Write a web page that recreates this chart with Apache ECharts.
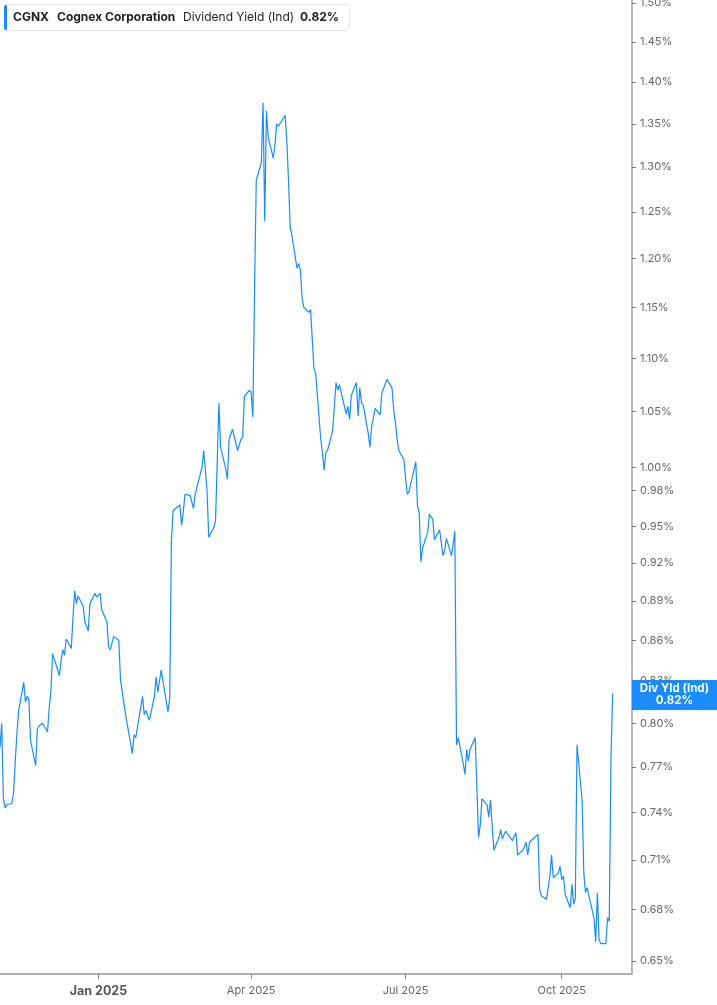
<!DOCTYPE html>
<html>
<head>
    <meta charset="utf-8" />
    <title>CGNX Dividend Yield (Ind)</title>
    <script src="https://cdn.jsdelivr.net/npm/echarts@6.0.0/dist/echarts.min.js"></script>
    <style type="text/css">
        html, body {
            margin: 0;
            padding: 0;
            width: 100%;
            height: 100%;
            background-color: #fff;
            overflow: hidden;
        }

        #chart {
            width: 717px;
            height: 1005px;
        }
    </style>
</head>
<body>
    <div id="chart"></div>
    <script type="text/javascript">
        // dividend yield (%), one value per trading day, month by month
        var nov24 = [0.783, 0.800, 0.749, 0.743, 0.745, 0.746, 0.753, 0.774, 0.793, 0.809, 0.829, 0.815, 0.819, 0.817, 0.788, 0.771, 0.796, 0.798, 0.800];
        var dec24 = [0.794, 0.811, 0.823, 0.850, 0.846, 0.834, 0.845, 0.853, 0.849, 0.861, 0.854, 0.877, 0.898, 0.888, 0.894, 0.886, 0.874, 0.867, 0.888, 0.896, 0.893];
        var jan25 = [0.896, 0.883, 0.874, 0.855, 0.853, 0.863, 0.860, 0.831, 0.831, 0.814, 0.806, 0.779, 0.792, 0.790, 0.791, 0.819, 0.806, 0.809, 0.805, 0.802];
        var feb25 = [0.819, 0.833, 0.822, 0.830, 0.838, 0.815, 0.808, 0.817, 0.938, 0.963, 0.968, 0.951, 0.962, 0.977, 0.976, 0.975, 0.965, 0.977, 0.978];
        var mar25 = [1.000, 1.015, 0.998, 0.980, 0.941, 0.949, 0.955, 1.005, 1.058, 1.018, 0.999, 0.990, 1.025, 1.025, 1.034, 1.015, 1.020, 1.025, 1.027, 1.064, 1.070];
        var apr25 = [1.067, 1.045, 1.170, 1.285, 1.305, 1.375, 1.240, 1.365, 1.335, 1.310, 1.325, 1.350, 1.347, 1.360, 1.330, 1.285, 1.233, 1.225, 1.190, 1.195, 1.188];
        var may25 = [1.160, 1.150, 1.145, 1.148, 1.150, 1.090, 1.086, 1.025, 1.013, 0.998, 1.013, 1.015, 1.033, 1.034, 1.077, 1.070, 1.075, 1.048, 1.055, 1.043, 1.065];
        var jun25 = [1.077, 1.046, 1.072, 1.058, 1.056, 1.030, 1.018, 1.037, 1.044, 1.053, 1.047, 1.067, 1.066, 1.080, 1.072, 1.051, 1.040, 1.025, 1.015, 1.007];
        var jul25 = [0.990, 0.977, 0.979, 1.005, 0.967, 0.962, 0.921, 0.932, 0.945, 0.960, 0.960, 0.956, 0.939, 0.947, 0.937, 0.926, 0.930, 0.940, 0.926, 0.935, 0.946, 0.785];
        var aug25 = [0.790, 0.772, 0.765, 0.782, 0.774, 0.782, 0.790, 0.756, 0.724, 0.732, 0.749, 0.745, 0.737, 0.748, 0.748, 0.716, 0.724, 0.729, 0.723, 0.726, 0.728];
        var sep25 = [0.722, 0.725, 0.727, 0.713, 0.716, 0.718, 0.721, 0.713, 0.721, 0.724, 0.724, 0.726, 0.692, 0.688, 0.686, 0.687, 0.700, 0.713, 0.699, 0.702, 0.706];
        var oct25 = [0.698, 0.700, 0.689, 0.681, 0.695, 0.683, 0.686, 0.785, 0.748, 0.702, 0.690, 0.693, 0.688, 0.675, 0.661, 0.690, 0.662, 0.660, 0.660, 0.675, 0.673, 0.775, 0.821];

        // market calendar
        var firstDay = '2024-11-04';
        var lastDay = '2025-10-31';
        var holidays = ['2024-11-28', '2024-12-25', '2025-01-01', '2025-01-09', '2025-01-20', '2025-02-17',
            '2025-04-18', '2025-05-26', '2025-06-19', '2025-07-04', '2025-09-01'];

        // axis ticks
        var yTicks = [0.65, 0.68, 0.71, 0.74, 0.77, 0.80, 0.83, 0.86, 0.89, 0.92, 0.95, 0.98,
            1.00, 1.05, 1.10, 1.15, 1.20, 1.25, 1.30, 1.35, 1.40, 1.45, 1.50];
        var xTicks = ['2025-01-01', '2025-04-01', '2025-07-01', '2025-10-01'];
        var monthNames = ['Jan', 'Feb', 'Mar', 'Apr', 'May', 'Jun', 'Jul', 'Aug', 'Sep', 'Oct', 'Nov', 'Dec'];

        var DAY = 86400000;
        var toTs = function (s) {
            var p = s.split('-');
            return Date.UTC(+p[0], +p[1] - 1, +p[2]);
        };
        var toKey = function (t) {
            return new Date(t).toISOString().slice(0, 10);
        };

        var tradingDays = function (from, to) {
            var out = [];
            for (var t = toTs(from); t <= toTs(to); t += DAY) {
                var wd = new Date(t).getUTCDay();
                if (wd === 0 || wd === 6) continue;
                if (holidays.indexOf(toKey(t)) >= 0) continue;
                out.push(t);
            }
            return out;
        };

        var days = tradingDays(firstDay, lastDay);
        var values = [].concat(nov24, dec24, jan25, feb25, mar25, apr25, may25, jun25, jul25, aug25, sep25, oct25);
        var seriesData = [];
        for (var i = 0; i < days.length && i < values.length; i++) {
            seriesData.push([days[i], values[i]]);
        }
        var lastValue = values[values.length - 1];

        var xMin = toTs(firstDay);
        var xMax = xMin + 372.4 * DAY;
        var xTickTs = xTicks.map(toTs);

        var FONT = 'Inter, "Noto Sans", sans-serif';
        var BLUE = '#1a8cff';

        var option = {
            animation: false,
            backgroundColor: '#fff',
            textStyle: { fontFamily: FONT },
            grid: { left: 0, right: 85, top: 0, bottom: 31, outerBoundsMode: 'none', containLabel: false },
            xAxis: {
                type: 'value',
                min: xMin,
                max: xMax,
                axisLine: { show: true, lineStyle: { color: '#b0b0b0', width: 2 } },
                axisTick: { show: true, customValues: xTickTs, length: 5, lineStyle: { color: '#8a8a8a' } },
                axisLabel: {
                    customValues: xTickTs,
                    margin: 11,
                    formatter: function (v) {
                        var d = new Date(v);
                        var m = d.getUTCMonth();
                        var txt = monthNames[m] + ' ' + d.getUTCFullYear();
                        return m === 0 ? '{y|' + txt + '}' : '{m|' + txt + '}';
                    },
                    rich: {
                        y: { fontFamily: FONT, fontSize: 12.5, fontWeight: 'bold', color: '#555' },
                        m: { fontFamily: FONT, fontSize: 11, color: '#666' }
                    }
                },
                splitLine: { show: false }
            },
            yAxis: {
                type: 'log',
                logBase: 10,
                position: 'right',
                min: 0.6427,
                max: 1.504,
                axisLine: { show: true, lineStyle: { color: '#a0a0a0', width: 1.5 } },
                axisTick: { show: true, customValues: yTicks, length: 4, lineStyle: { color: '#777' } },
                axisLabel: {
                    customValues: yTicks,
                    margin: 8,
                    color: '#666',
                    fontSize: 11,
                    fontFamily: FONT,
                    formatter: function (v) {
                        return Number(v).toFixed(2) + '%';
                    }
                },
                splitLine: { show: false }
            },
            graphic: [
                {
                    type: 'rect', x: 4.5, y: 4.5, z: 10,
                    shape: { width: 345, height: 26, r: 3 },
                    style: { fill: '#fff', stroke: '#e3e3e3', lineWidth: 1 }
                },
                {
                    type: 'rect', x: 4, y: 5, z: 11,
                    shape: { width: 3, height: 25, r: [2, 0, 0, 2] },
                    style: { fill: BLUE }
                },
                {
                    type: 'text', x: 13, y: 17.5, z: 12,
                    style: { text: 'CGNX', font: 'bold 12px ' + FONT, fill: '#222', verticalAlign: 'middle' }
                },
                {
                    type: 'text', x: 57, y: 17.5, z: 12,
                    style: { text: 'Cognex Corporation', font: 'bold 12px ' + FONT, fill: '#222', verticalAlign: 'middle' }
                },
                {
                    type: 'text', x: 183, y: 17.5, z: 12,
                    style: { text: 'Dividend Yield (Ind)', font: '12px ' + FONT, fill: '#222', verticalAlign: 'middle' }
                },
                {
                    type: 'text', x: 300, y: 17.5, z: 12,
                    style: { text: lastValue.toFixed(2) + '%', font: 'bold 12px ' + FONT, fill: '#222', verticalAlign: 'middle' }
                }
            ],
            series: [
                {
                    type: 'line',
                    data: seriesData,
                    showSymbol: false,
                    symbol: 'none',
                    lineStyle: { color: BLUE, width: 1.2 },
                    itemStyle: { color: BLUE },
                    markLine: {
                        silent: true,
                        symbol: 'none',
                        animation: false,
                        z: 20,
                        lineStyle: { color: 'rgba(0,0,0,0)', width: 0, type: 'solid' },
                        data: [{ yAxis: lastValue }],
                        label: {
                            show: true,
                            position: 'end',
                            distance: 0,
                            opacity: 1,
                            backgroundColor: BLUE,
                            padding: [3, 0, 3, 0],
                            formatter: '{a|Div Yld (Ind)}\n{a|' + lastValue.toFixed(2) + '%}',
                            rich: {
                                a: { width: 85, align: 'center', color: '#fff', fontWeight: 'bold', fontSize: 11.5, lineHeight: 12, fontFamily: FONT }
                            }
                        }
                    }
                }
            ]
        };

        var myChart = echarts.init(document.getElementById('chart'), null, { renderer: 'canvas' });
        myChart.setOption(option);
        window.onresize = myChart.resize;
    </script>
</body>
</html>
